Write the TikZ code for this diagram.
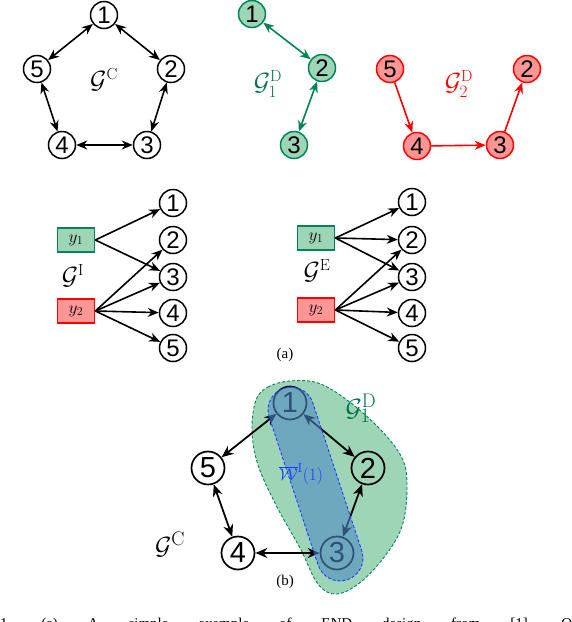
\documentclass[tikz,border=0pt]{standalone}
\usepackage{fontspec}
\newfontfamily\digitfont{Liberation Sans}
\newfontfamily\capfont{Liberation Serif}
\usetikzlibrary{arrows.meta}
\definecolor{gfill}{RGB}{158,213,183}
\definecolor{gdark}{RGB}{0,133,82}
\definecolor{glabel}{RGB}{0,115,70}
\definecolor{rfill}{RGB}{255,150,150}
\definecolor{rline}{RGB}{255,0,0}
\definecolor{bregion}{RGB}{78,138,195}
\definecolor{bline}{RGB}{30,60,255}
\tikzset{
  cnode/.style={circle, draw=black, line width=1.5pt, minimum size=27pt, inner sep=0pt,
    font=\digitfont\fontsize{24}{24}\selectfont},
  gnode/.style={cnode, draw=gdark, fill=gfill},
  rnode/.style={cnode, draw=rline, fill=rfill},
  bignode/.style={cnode, line width=1.7pt, minimum size=33pt, font=\digitfont\fontsize{29}{29}\selectfont},
  ybox/.style={rectangle, line width=1.7pt, minimum width=37pt, minimum height=24pt, inner sep=0pt,
    font=\fontsize{17}{17}\selectfont},
  arr/.style={line width=1.6pt, -{Stealth[length=11pt,width=9pt]}},
  barr/.style={line width=1.6pt, {Stealth[length=11pt,width=9pt]}-{Stealth[length=11pt,width=9pt]}},
  bbarr/.style={line width=1.8pt, {Stealth[length=12pt,width=10pt]}-{Stealth[length=12pt,width=10pt]}},
  glab/.style={font=\fontsize{23}{23}\selectfont, inner sep=0pt},
  biglab/.style={font=\fontsize{28}{28}\selectfont, inner sep=0pt},
  sublab/.style={font=\capfont\fontsize{15}{15}\selectfont, inner sep=0pt}
}
\begin{document}
\begin{tikzpicture}[x=1pt,y=-1pt]
\useasboundingbox (0,0) rectangle (572,622);
\clip (0,0) rectangle (572,622);
% ---------- G^C (top left)
\node[cnode] (c1) at (104,15) {1};
\node[cnode] (c2) at (171,69) {2};
\node[cnode] (c3) at (147,145) {3};
\node[cnode] (c4) at (62,145) {4};
\node[cnode] (c5) at (37,69) {5};
\draw[barr] (c1) -- (c2);
\draw[barr] (c2) -- (c3);
\draw[barr] (c3) -- (c4);
\draw[barr] (c4) -- (c5);
\draw[barr] (c5) -- (c1);
\node[glab] (lc) at (104,80) {$\mathcal{G}^{\mathrm{C}}$};
% ---------- G1^D (green)
\node[gnode] (g1) at (252,14) {1};
\node[gnode] (g2) at (322,68) {2};
\node[gnode] (g3) at (294,145) {3};
\draw[barr, draw=gdark, fill=gdark] (g1) -- (g2);
\draw[barr, draw=gdark, fill=gdark] (g2) -- (g3);
\node[glab, text=glabel] (lg) at (268,84) {$\mathcal{G}_1^{\mathrm{D}}$};
% ---------- G2^D (red)
\node[rnode] (r5) at (390,69) {5};
\node[rnode] (r2) at (527,69) {2};
\node[rnode] (r4) at (417,146) {4};
\node[rnode] (r3) at (500,145) {3};
\draw[arr, draw=rline, fill=rline] (r5) -- (r4);
\draw[arr, draw=rline, fill=rline] (r4) -- (r3);
\draw[arr, draw=rline, fill=rline] (r3) -- (r2);
\node[glab, text=rline] (lr) at (459,84) {$\mathcal{G}_2^{\mathrm{D}}$};
% ---------- G^I
\node[ybox, draw=gdark, fill=gfill] (iy1) at (76,240) {$y_1$};
\node[ybox, draw=rline, fill=rfill] (iy2) at (76,311) {$y_2$};
\node[cnode] (i1) at (173,203) {1};
\node[cnode] (i2) at (173,240) {2};
\node[cnode] (i3) at (173,277) {3};
\node[cnode] (i4) at (173,313) {4};
\node[cnode] (i5) at (173,348) {5};
\draw[arr] (iy1.east) -- (i1);
\draw[arr] (iy1.east) -- (i3);
\draw[arr] (iy2.east) -- (i2);
\draw[arr] (iy2.east) -- (i3);
\draw[arr] (iy2.east) -- (i4);
\draw[arr] (iy2.east) -- (i5);
\node[glab] (li) at (73,276) {$\mathcal{G}^{\mathrm{I}}$};
% ---------- G^E
\node[ybox, draw=gdark, fill=gfill] (ey1) at (316,238) {$y_1$};
\node[ybox, draw=rline, fill=rfill] (ey2) at (316,310) {$y_2$};
\node[cnode] (e1) at (412,202) {1};
\node[cnode] (e2) at (412,240) {2};
\node[cnode] (e3) at (412,277) {3};
\node[cnode] (e4) at (412,313) {4};
\node[cnode] (e5) at (412,348) {5};
\draw[arr] (ey1.east) -- (e1);
\draw[arr] (ey1.east) -- (e2);
\draw[arr] (ey1.east) -- (e3);
\draw[arr] (ey2.east) -- (e2);
\draw[arr] (ey2.east) -- (e3);
\draw[arr] (ey2.east) -- (e4);
\draw[arr] (ey2.east) -- (e5);
\node[glab] (le) at (317,271) {$\mathcal{G}^{\mathrm{E}}$};
\node[sublab] (sa) at (285,355) {(a)};
% ---------- (b)
\draw[draw=gdark, fill=gfill, line width=0.9pt, dash pattern=on 3pt off 2pt]
  plot[smooth cycle, tension=0.6] coordinates {(256,400) (268,387) (290,381) (318,383) (347,400) (380,429) (402,458) (407,485) (403,523) (388,552) (362,581) (337,594) (318,584) (300,548) (277,507) (258,465) (252,430)};
\node[bignode] (b1) at (290,403) {1};
\node[bignode] (b2) at (368,468) {2};
\node[bignode] (b3) at (337,553) {3};
\node[bignode] (b4) at (238,553) {4};
\node[bignode] (b5) at (208,468) {5};
\draw[bbarr] (b1) -- (b2);
\draw[bbarr] (b2) -- (b3);
\draw[bbarr] (b3) -- (b4);
\draw[bbarr] (b4) -- (b5);
\draw[bbarr] (b5) -- (b1);
\draw[draw=bline, fill=bregion, fill opacity=0.6, line width=0.9pt, dash pattern=on 3pt off 2pt, rounded corners=23pt]
  (262.0,395.4) -- (305.6,381.0) -- (369.0,572.6) -- (325.4,587.0) -- cycle;
\node[font=\fontsize{19}{19}\selectfont, text=bline, inner sep=0pt] (lw) at (301,474) {$\overline{\mathcal{W}}^{\mathrm{I}}(1)$};
\node[biglab, text=glabel] (lb) at (361,408) {$\mathcal{G}_1^{\mathrm{D}}$};
\node[biglab] (lbc) at (170,544) {$\mathcal{G}^{\mathrm{C}}$};
\node[sublab] (sb) at (285,582) {(b)};
% ---------- caption (cut off)
\node[anchor=base west, inner sep=0pt, font=\capfont\fontsize{15}{15}\selectfont] (cap) at (0,628)
  {\hbox to 572pt{1.\hfill(a)\hfill A\hfill simple\hfill example\hfill of\hfill END\hfill design\hfill from\hfill [1].\hfill O}};
\end{tikzpicture}
\end{document}
